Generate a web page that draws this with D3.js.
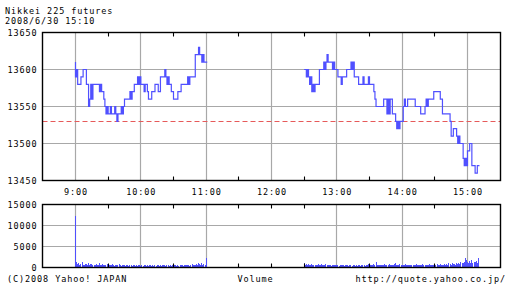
<!DOCTYPE html>
<html>
<head>
<meta charset="utf-8">
<script src="https://cdn.jsdelivr.net/npm/d3@7"></script>
<style>
  html, body { margin: 0; padding: 0; background: #fff; }
  svg { display: block; }
  text { font-family: "DejaVu Sans Mono", monospace; font-size: 8.5px; letter-spacing: 0.9px; fill: #000; }
</style>
</head>
<body>
<div id="chart"></div>
<script>
// Price steps: [minutes after 9:00, price from that minute on]
const amSteps = [
  [0, 13610], [0, 13590], [1, 13600], [2, 13580], [5, 13590], [7, 13600], [10, 13580],
  [12, 13550], [13, 13560], [14, 13580], [15, 13560], [16, 13580], [22, 13570], [23, 13580],
  [24, 13570], [26, 13560], [27, 13550], [28, 13540], [29, 13550], [30, 13540], [32, 13550],
  [33, 13540], [36, 13550], [37, 13540], [38, 13530], [39, 13540], [42, 13550], [43, 13540],
  [44, 13550], [45, 13560], [50, 13570], [51, 13560], [52, 13570], [54, 13580], [57, 13590],
  [58, 13580], [59, 13590], [60, 13580], [63, 13570], [64, 13580], [66, 13570], [67, 13560],
  [70, 13570], [73, 13580], [76, 13570], [78, 13590], [82, 13600], [83, 13590], [84, 13580],
  [85, 13590], [86, 13580], [88, 13570], [90, 13560], [94, 13570], [97, 13580], [103, 13590],
  [104, 13580], [105, 13590], [110, 13620], [113, 13630], [114, 13620], [116, 13610],
  [117, 13620], [118, 13610], [121, 13610]
];
const pmSteps = [
  [210, 13600], [212, 13590], [213, 13600], [214, 13590], [215, 13580], [216, 13590],
  [217, 13570], [218, 13580], [219, 13570], [220, 13580], [224, 13600], [228, 13610],
  [229, 13600], [230, 13610], [231, 13620], [232, 13610], [236, 13600], [237, 13610],
  [238, 13600], [241, 13590], [244, 13580], [245, 13590], [249, 13600], [253, 13610],
  [254, 13600], [255, 13610], [256, 13590], [260, 13580], [264, 13590], [265, 13580],
  [269, 13590], [270, 13580], [274, 13570], [275, 13560], [276, 13550], [283, 13560],
  [286, 13540], [287, 13560], [288, 13540], [289, 13560], [291, 13540], [294, 13530],
  [295, 13520], [296, 13530], [297, 13520], [298, 13530], [301, 13550], [302, 13560],
  [303, 13550], [305, 13560], [312, 13550], [317, 13540], [321, 13550], [322, 13560],
  [323, 13550], [324, 13560], [329, 13570], [335, 13560], [337, 13540], [344, 13530],
  [345, 13510], [347, 13520], [350, 13510], [351, 13500], [352, 13510], [353, 13500],
  [356, 13480], [357, 13470], [358, 13480], [359, 13470], [360, 13490], [362, 13500],
  [364, 13470], [367, 13460], [369, 13470], [371, 13470]
];
const prevClose = 13530;

// Volume per minute, morning from 9:00, afternoon from 12:30
const volAmStart = 0;
const volAm = [
  12200, 1300, 900, 1100, 700, 800, 1400, 600, 700, 900,
  800, 700, 1000, 600, 800, 900, 500, 700, 600, 800,
  500, 600, 1100, 700, 500, 800, 600, 500, 700, 900,
  600, 500, 700, 600, 800, 500, 400, 600, 500, 700,
  900, 500, 400, 600, 500, 700, 300, 500, 600, 400,
  500, 600, 300, 500, 700, 400, 500, 300, 600, 500,
  300, 500, 400, 600, 500, 300, 500, 400, 500, 600,
  400, 500, 300, 500, 400, 600, 500, 300, 500, 400,
  500, 700, 500, 300, 600, 500, 400, 500, 300, 500,
  400, 500, 600, 300, 500, 400, 500, 600, 500, 400,
  500, 600, 500, 700, 500, 400, 600, 900, 500, 700,
  600, 900, 700, 1100, 800, 600, 1000, 700, 900, 600,
  2300
];
const volPmStart = 210;
const volPm = [
  1000, 700, 800, 600, 900, 700, 500, 800, 600, 700,
  500, 700, 600, 800, 500, 600, 900, 500, 700, 600,
  800, 500, 600, 700, 500, 400, 600, 500, 700, 500,
  600, 500, 400, 600, 500, 700, 500, 400, 500, 600,
  500, 400, 600, 500, 400, 500, 600, 400, 500, 400,
  500, 600, 400, 500, 700, 500, 400, 600, 500, 800,
  500, 600, 700, 500, 900, 600, 1200, 700, 500, 600,
  500, 700, 600, 500, 800, 600, 500, 700, 900, 600,
  500, 700, 600, 800, 1100, 700, 600, 500, 800, 600,
  700, 500, 600, 800, 500, 700, 600, 500, 700, 600,
  500, 700, 600, 800, 500, 600, 700, 500, 600, 800,
  600, 500, 700, 600, 500, 800, 600, 700, 500, 600,
  700, 600, 800, 500, 700, 900, 600, 700, 500, 800,
  700, 900, 600, 1100, 800, 700, 1000, 800, 900, 700,
  1100, 800, 1000, 900, 1200, 1000, 1100, 1400, 2300, 1800,
  1300, 1000, 1500, 1100, 1800, 1000, 1200, 1400, 1600, 1100,
  2300
];

// Axis ticks
const hourMinutes = [0, 60, 120, 180, 240, 300, 360];
const hourLabels = ['9:00', '10:00', '11:00', '12:00', '13:00', '14:00', '15:00'];
const halfHourMinutes = [30, 90, 150, 210, 270, 330];
const priceTicks = [13450, 13500, 13550, 13600, 13650];
const volumeTicks = [0, 5000, 10000, 15000];

const width = 512, height = 288;
const left = 42.5, right = 500.5;
const mainTop = 32.5, mainBottom = 180.5;
const volTop = 204.5, volBottom = 267.5;
const lineBlue = '#5050ff';
const gridGray = '#a8a8a8';
const mono = '"DejaVu Sans Mono", monospace';

const svg = d3.select('#chart').append('svg')
  .attr('width', width)
  .attr('height', height);

svg.append('rect').attr('width', width).attr('height', height).attr('fill', '#fff');

// 9:00 at 75.5, 15:00 at 467.5
const x = d3.scaleLinear().domain([0, 360]).range([75.5, 467.5]);
const yPrice = d3.scaleLinear().domain([13450, 13650]).range([mainBottom, mainTop]);
const yVol = d3.scaleLinear().domain([0, 15000]).range([volBottom, volTop]);

const px = v => Math.floor(v) + 0.5;

// Grid lines
function drawGrid(top, bottom, hours, yScale, values) {
  const g = svg.append('g').attr('stroke', gridGray).attr('stroke-width', 1.2);
  g.selectAll('.vgrid').data(hours).enter().append('line')
    .attr('x1', d => px(x(d))).attr('x2', d => px(x(d)))
    .attr('y1', top).attr('y2', bottom);
  g.selectAll('.hgrid').data(values).enter().append('line')
    .attr('x1', left).attr('x2', right)
    .attr('y1', d => yScale(d)).attr('y2', d => yScale(d));
}
drawGrid(mainTop, mainBottom, hourMinutes, yPrice, [13500, 13550, 13600]);
drawGrid(volTop, volBottom, hourMinutes.filter(d => d !== 180), yVol, [5000, 10000]);

// Previous close
svg.append('line')
  .attr('x1', left).attr('x2', right)
  .attr('y1', px(yPrice(prevClose))).attr('y2', px(yPrice(prevClose)))
  .attr('stroke', '#e65a5a')
  .attr('stroke-width', 1)
  .attr('stroke-dasharray', '5,3');

// Price line
const line = d3.line()
  .x(d => x(d[0]))
  .y(d => yPrice(d[1]))
  .curve(d3.curveStepAfter);

[amSteps, pmSteps].forEach(steps => {
  svg.append('path')
    .datum(steps)
    .attr('d', line)
    .attr('fill', 'none')
    .attr('stroke', lineBlue)
    .attr('stroke-width', 1.2);
});

// Volume bars
const volData = volAm.map((v, i) => ({ m: volAmStart + i, v }))
  .concat(volPm.map((v, i) => ({ m: volPmStart + i, v })));

svg.append('g').selectAll('rect').data(volData).enter().append('rect')
  .attr('x', d => Math.floor(x(d.m)))
  .attr('width', 1)
  .attr('y', d => Math.round(yVol(d.v)))
  .attr('height', d => Math.max(0, Math.floor(volBottom) - Math.round(yVol(d.v))))
  .attr('fill', lineBlue)
  .attr('shape-rendering', 'crispEdges');

// Frames
[[mainTop, mainBottom], [volTop, volBottom]].forEach(([t, b]) => {
  svg.append('rect')
    .attr('x', left).attr('y', t)
    .attr('width', right - left).attr('height', b - t)
    .attr('fill', 'none').attr('stroke', '#000').attr('stroke-width', 1.4);
});

// Small inner ticks on the time axes
function drawTicks(top, bottom, values) {
  const g = svg.append('g').attr('stroke', '#000').attr('stroke-width', 1.1);
  values.forEach(d => {
    const xx = px(x(d));
    g.append('line').attr('x1', xx).attr('x2', xx).attr('y1', top).attr('y2', top + 4);
    g.append('line').attr('x1', xx).attr('x2', xx).attr('y1', bottom).attr('y2', bottom - 4);
  });
}
drawTicks(mainTop, mainBottom, halfHourMinutes);
drawTicks(volTop, volBottom, halfHourMinutes.concat([180]));

// Axis labels
const xAxis = d3.axisBottom(x)
  .tickValues(hourMinutes)
  .tickFormat((d, i) => hourLabels[i])
  .tickSize(0)
  .tickPadding(8);
svg.append('g')
  .attr('transform', `translate(0,${mainBottom})`)
  .call(xAxis)
  .call(g => g.select('.domain').remove())
  .attr('font-family', mono).attr('font-size', 8.5);

const priceAxis = d3.axisLeft(yPrice)
  .tickValues(priceTicks)
  .tickFormat(d3.format('d'))
  .tickSize(0)
  .tickPadding(5);
svg.append('g')
  .attr('transform', `translate(${left},0)`)
  .call(priceAxis)
  .call(g => g.select('.domain').remove())
  .attr('font-family', mono).attr('font-size', 8.5);

const volAxis = d3.axisLeft(yVol)
  .tickValues(volumeTicks)
  .tickFormat(d3.format('d'))
  .tickSize(0)
  .tickPadding(5);
svg.append('g')
  .attr('transform', `translate(${left},0)`)
  .call(volAxis)
  .call(g => g.select('.domain').remove())
  .attr('font-family', mono).attr('font-size', 8.5);

// Titles and footer
svg.append('text').attr('x', 5).attr('y', 14).text('Nikkei 225 futures');
svg.append('text').attr('x', 5).attr('y', 23.5).text('2008/6/30 15:10');
svg.append('text').attr('x', 7).attr('y', 281.5).text('(C)2008 Yahoo! JAPAN');
svg.append('text').attr('x', 255.5).attr('y', 281.5).attr('text-anchor', 'middle').text('Volume');
svg.append('text').attr('x', 506).attr('y', 281.5).attr('text-anchor', 'end').text('http://quote.yahoo.co.jp/');
</script>
</body>
</html>
